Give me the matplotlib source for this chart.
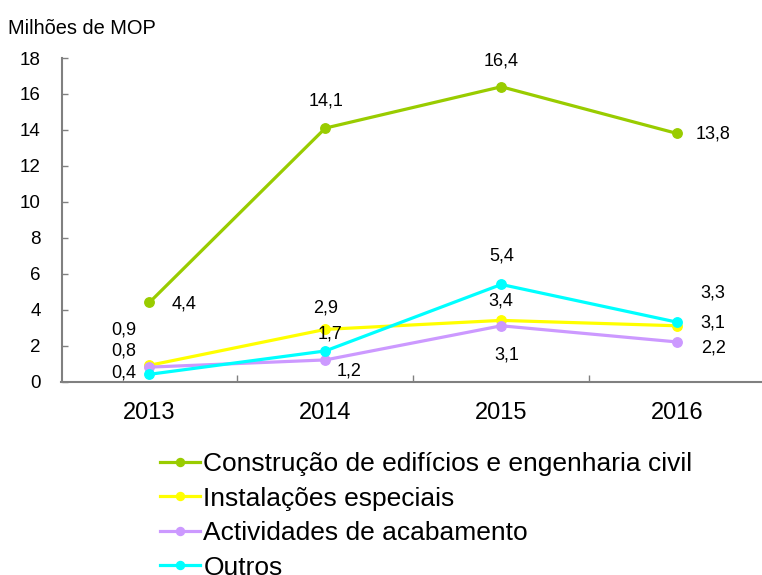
import matplotlib
matplotlib.use('Agg')
import matplotlib.pyplot as plt

plt.rcParams['font.family'] = ['Liberation Sans', 'DejaVu Sans']

# Data
years = ['2013', '2014', '2015', '2016']
construcao = [4.4, 14.1, 16.4, 13.8]
instalacoes = [0.9, 2.9, 3.4, 3.1]
acabamento = [0.8, 1.2, 3.1, 2.2]
outros = [0.4, 1.7, 5.4, 3.3]

series_names = ['Construção de edifícios e engenharia civil',
                'Instalações especiais',
                'Actividades de acabamento',
                'Outros']
series_values = [construcao, instalacoes, acabamento, outros]
colors = ['#99CC00', '#FFFF00', '#CC99FF', '#00FFFF']

# label offsets in pixels (dx, dy) per series / point
offsets = [
    [(35, -2), (1, 27), (0, 26), (36, -1)],
    [(-26, 35), (0, 21), (0, 19), (36, 3)],
    [(-26, 16), (24, -11), (6, -29), (36, -6)],
    [(-26, 1), (5, 17), (0, 28), (36, 29)],
]

fig = plt.figure(figsize=(7.62, 5.75), dpi=100)
ax = fig.add_axes([61.5 / 762, (575 - 381.5) / 575, 700.5 / 762, 323.5 / 575])

x = list(range(len(years)))
for name, vals, col, offs in zip(series_names, series_values, colors, offsets):
    ax.plot(x, vals, color=col, lw=2.3, marker='o', ms=6.8, label=name,
            clip_on=False)
    for xi, v, (dx, dy) in zip(x, vals, offs):
        ax.annotate(f'{v:.1f}'.replace('.', ','), (xi, v),
                    xytext=(dx * 0.72, dy * 0.72), textcoords='offset points',
                    ha='center', va='center', fontsize=13)

ax.set_xlim(-0.5, -0.5 + 700.5 / 175.9)
ax.set_ylim(0, 18)
ax.set_yticks(range(0, 19, 2))
ax.set_xticks(x)
ax.set_xticklabels(years)
ax.set_xticks([0.5, 1.5, 2.5], minor=True)

for s in ['top', 'right']:
    ax.spines[s].set_visible(False)
for s in ['left', 'bottom']:
    ax.spines[s].set_color('#808080')
    ax.spines[s].set_linewidth(1.5)

ax.tick_params(axis='y', direction='in', length=4, width=1, color='#808080',
               labelsize=13.5, pad=15)
ax.tick_params(axis='x', which='major', length=0, labelsize=17, pad=15)
ax.tick_params(axis='x', which='minor', direction='in', length=5, width=1,
               color='#808080')

fig.text(8 / 762, 1 - 28 / 575, 'Milhões de MOP', fontsize=14.4,
         ha='left', va='center')

leg = fig.legend(loc='upper left', bbox_to_anchor=(160 / 762, 1 - 452 / 575),
                 frameon=False, fontsize=19, handlelength=1.52,
                 handletextpad=0.12, labelspacing=0.40, borderpad=0,
                 borderaxespad=0, markerscale=0.85)

fig.savefig('out.png', dpi=100)
